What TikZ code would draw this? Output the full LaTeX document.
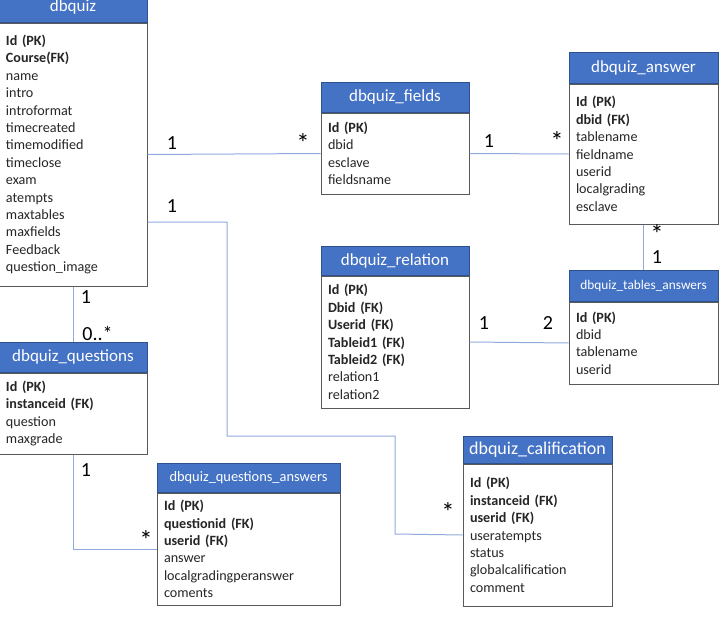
\documentclass[tikz,border=0pt]{standalone}
\usepackage{fontspec}
\setmainfont{Carlito}
\usetikzlibrary{positioning}

\begin{document}
\begin{tikzpicture}[x=0.75pt,y=0.75pt,yscale=-1,xscale=1,
  hdr/.style={draw={rgb, 255:red, 47; green, 82; blue, 143 }, fill={rgb, 255:red, 68; green, 114; blue, 196 }, text=white, line width=0.75, inner sep=0pt, minimum width=111pt, minimum height=22.5pt, font=\fontsize{12.75}{15}\selectfont},
  tbl/.style={draw={rgb, 255:red, 89; green, 89; blue, 89 }, fill=white, line width=0.75, inner xsep=5.25pt, inner ysep=0pt, text width=100.5pt, align=left, text={rgb, 255:red, 38; green, 38; blue, 38 }, font=\fontsize{10.6}{13.05}\selectfont},
  rel/.style={draw={rgb, 255:red, 143; green, 170; blue, 220 }, line width=0.75},
  mult/.style={anchor=base, inner sep=0pt, font=\fontsize{15}{18}\selectfont},
  star/.style={mult, font=\fontsize{20}{24}\selectfont}
]
\useasboundingbox (0,0) rectangle (722,621);

%Shape: dbquiz
\node [hdr] (quiz) at (73,7) {dbquiz};
\node [tbl, minimum height=197.25pt, below=0pt of quiz] (quizb) {\textbf{Id (PK)}\\ \textbf{Course(FK)}\\ name\\ intro\\ introformat\\ timecreated\\ timemodified\\ timeclose\\ exam\\ atempts\\ maxtables\\ maxfields\\ Feedback\\ question\_image};

%Shape: dbquiz_fields
\node [hdr] (fields) at (395,97) {dbquiz\_fields};
\node [tbl, minimum height=60.75pt, below=0pt of fields] (fieldsb) {\textbf{Id (PK)}\\ dbid\\ esclave\\ fieldsname};

%Shape: dbquiz_answer
\node [hdr, minimum width=111.75pt, minimum height=23.25pt] (answer) at (643.5,67.5) {dbquiz\_answer};
\node [tbl, text width=101.25pt, minimum height=105pt, below=0pt of answer] (answerb) {\textbf{Id (PK)}\\ \textbf{dbid (FK)}\\ tablename\\ fieldname\\ userid\\ localgrading\\ esclave};

%Shape: dbquiz_tables_answers
\node [hdr, minimum width=111.75pt, minimum height=23.25pt, font=\fontsize{10}{12}\selectfont] (tabans) at (643.5,285.5) {dbquiz\_tables\_answers};
\node [tbl, text width=101.25pt, minimum height=61.5pt, below=0pt of tabans] (tabansb) {\textbf{Id (PK)}\\ dbid\\ tablename\\ userid};

%Shape: dbquiz_relation
\node [hdr, minimum height=21.75pt] (relat) at (395,260.5) {dbquiz\_relation};
\node [tbl, minimum height=99pt, below=0pt of relat] (relatb) {\textbf{Id (PK)}\\ \textbf{Dbid (FK)}\\ \textbf{Userid (FK)}\\ \textbf{Tableid1 (FK)}\\ \textbf{Tableid2 (FK)}\\ relation1\\ relation2};

%Shape: dbquiz_questions
\node [hdr] (quest) at (73,357) {dbquiz\_questions};
\node [tbl, minimum height=60.75pt, below=0pt of quest] (questb) {\textbf{Id (PK)}\\ \textbf{instanceid (FK)}\\ question\\ maxgrade};

%Shape: dbquiz_questions_answers
\node [hdr, minimum width=137.25pt, minimum height=21.75pt, font=\fontsize{10.8}{13}\selectfont] (qans) at (248.5,477.5) {dbquiz\_questions\_answers};
\node [tbl, text width=126.75pt, minimum height=84pt, below=0pt of qans] (qansb) {\textbf{Id (PK)}\\ \textbf{questionid (FK)}\\ \textbf{userid (FK)}\\ answer\\ localgradingperanswer\\ coments};

%Shape: dbquiz_calification
\node [hdr, minimum width=111.75pt, minimum height=20.25pt, font=\fontsize{13.5}{16}\selectfont] (calif) at (537.5,449.5) {dbquiz\_calification};
\node [tbl, text width=101.25pt, minimum height=106.5pt, below=0pt of calif] (califb) {\textbf{Id (PK)}\\ \textbf{instanceid (FK)}\\ \textbf{userid (FK)}\\ useratempts\\ status\\ globalcalification\\ comment};

%Straight Lines
\draw [rel] (quizb.east) -- (fieldsb.west) ;
%Straight Lines
\draw [rel] (fieldsb.east) -- (answerb.west) ;
%Straight Lines
\draw [rel] (answerb.south) -- (tabans.north) ;
%Straight Lines
\draw [rel] (relatb.east) -- (tabansb.west) ;
%Straight Lines
\draw [rel] (quizb.south) -- (quest.north) ;
%Straight Lines
\draw [rel] (questb.south) |- (qansb.west) ;
%Straight Lines
\draw [rel] (quizb.east |- 0,222) -| (227,436) -| (395,534) -- (califb.west) ;

% Text Node
\node [mult] (m1) at (172,149) {1};
% Text Node
\node [star] (m2) at (303,152) {*};
% Text Node
\node [mult] (m3) at (489,147) {1};
% Text Node
\node [star] (m4) at (557,150) {*};
% Text Node
\node [star] (m5) at (657,243) {*};
% Text Node
\node [mult] (m6) at (657,263.5) {1};
% Text Node
\node [mult] (m7) at (484,329.5) {1};
% Text Node
\node [mult] (m8) at (548,329.5) {2};
% Text Node
\node [mult] (m9) at (172,212.5) {1};
% Text Node
\node [star] (m10) at (448,521) {*};
% Text Node
\node [mult] (m11) at (86,303.5) {1};
% Text Node
\node [mult] (m12) at (97.5,340) {0..*};
% Text Node
\node [mult] (m13) at (86,476.5) {1};
% Text Node
\node [star] (m14) at (146,549) {*};

\end{tikzpicture}
\end{document}
